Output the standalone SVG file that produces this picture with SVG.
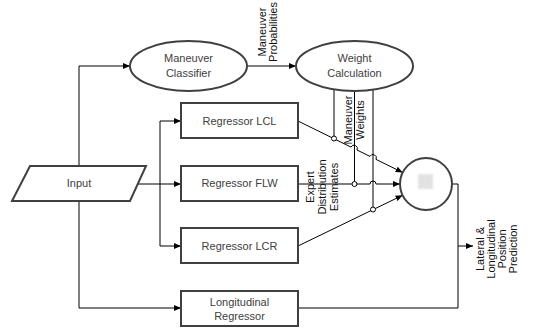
<svg xmlns="http://www.w3.org/2000/svg" width="537" height="331" viewBox="0 0 537 331">
<defs>
<marker id="arr" markerWidth="7" markerHeight="6" refX="7" refY="3" orient="auto" markerUnits="userSpaceOnUse"><path d="M0,0 L7,3 L0,6 Z" fill="#000"/></marker>
<filter id="soft" x="-50%" y="-50%" width="200%" height="200%"><feGaussianBlur stdDeviation="1"/></filter>
<style>
.node{fill:#fff;stroke:#404040;stroke-width:2}
.t{font-family:"Liberation Sans",Arial,sans-serif;font-size:11px;fill:#404040;text-anchor:middle}
.lbl{font-family:"Liberation Sans",Arial,sans-serif;font-size:11px;fill:#111;text-anchor:middle}
.c{fill:none;stroke:#000;stroke-width:1}
.ca{fill:none;stroke:#000;stroke-width:1;marker-end:url(#arr)}
.j{fill:#fff;stroke:#000;stroke-width:1}
</style>
</defs>
<rect width="537" height="331" fill="#fff"/>
<g id="connectors">
<path class="ca" d="M79,166 L79,66 L130,66"/>
<path class="ca" d="M79,201 L79,308 L181,308"/>
<path class="ca" d="M138,184 L181,184"/>
<path class="ca" d="M160,184 L160,121 L181,121"/>
<path class="ca" d="M160,184 L160,246 L181,246"/>
<path class="ca" d="M247,66 L296,66"/>
<path class="c" d="M334,89 L334,136"/>
<path class="c" d="M354.5,90 L354.5,181.5"/>
<path class="c" d="M373,88 L373,207"/>
<path class="ca" d="M298,121 L351,147.1 A3.3,3.3 0 0 1 357,150 L370,156.4 A3.3,3.3 0 0 1 376,159.4 L402.7,172.5"/>
<path class="ca" d="M298,184 L370,184 A3,3 0 0 1 376,184 L400,184"/>
<path class="ca" d="M298,246 L402.6,195.3"/>
<path class="c" d="M452,184 L458,184 L458,308 L298,308"/>
<path class="ca" d="M458,246 L473,246"/>
<circle class="j" cx="334" cy="138.5" r="2.5"/>
<circle class="j" cx="354.5" cy="184" r="2.5"/>
<circle class="j" cx="373" cy="209.5" r="2.5"/>
</g>
<g id="classifier"><ellipse class="node" cx="188.5" cy="66" rx="58.5" ry="25"/><text class="t" x="188.5" y="62">Maneuver</text><text class="t" x="188.5" y="77">Classifier</text></g>
<g id="weight"><ellipse class="node" cx="354.5" cy="66" rx="58.5" ry="25"/><text class="t" x="354.5" y="62">Weight</text><text class="t" x="354.5" y="77">Calculation</text></g>
<g id="input"><polygon class="node" points="30,166 146,166 130,201 12,201"/><text class="t" x="79" y="187">Input</text></g>
<g id="lcl"><rect class="node" x="181" y="103" width="117" height="35"/><text class="t" x="239.5" y="125">Regressor LCL</text></g>
<g id="flw"><rect class="node" x="181" y="166" width="117" height="35"/><text class="t" x="239.5" y="187">Regressor FLW</text></g>
<g id="lcr"><rect class="node" x="181" y="228" width="117" height="35"/><text class="t" x="239.5" y="250">Regressor LCR</text></g>
<g id="long"><rect class="node" x="181" y="291" width="117" height="35"/><text class="t" x="239.5" y="306">Longitudinal</text><text class="t" x="239.5" y="320">Regressor</text></g>
<g id="mixer"><circle class="node" cx="426" cy="184" r="26"/><rect x="418" y="174" width="15" height="15" fill="#e2e2e2" filter="url(#soft)"/></g>
<g id="labels">
<text class="lbl" transform="translate(266,32) rotate(-90)"><tspan x="0" y="0">Maneuver</tspan><tspan x="0" y="11">Probabilities</tspan></text>
<text class="lbl" transform="translate(352,120) rotate(-90)"><tspan x="0" y="0">Maneuver</tspan><tspan x="0" y="12">Weights</tspan></text>
<text class="lbl" transform="translate(314,187) rotate(-90)"><tspan x="0" y="0">Expert</tspan><tspan x="0" y="12">Distribution</tspan><tspan x="0" y="24">Estimates</tspan></text>
<text class="lbl" transform="translate(484,249) rotate(-90)"><tspan x="0" y="0">Lateral &amp;</tspan><tspan x="0" y="11">Longitudinal</tspan><tspan x="0" y="22">Position</tspan><tspan x="0" y="33">Prediction</tspan></text>
</g>
</svg>
